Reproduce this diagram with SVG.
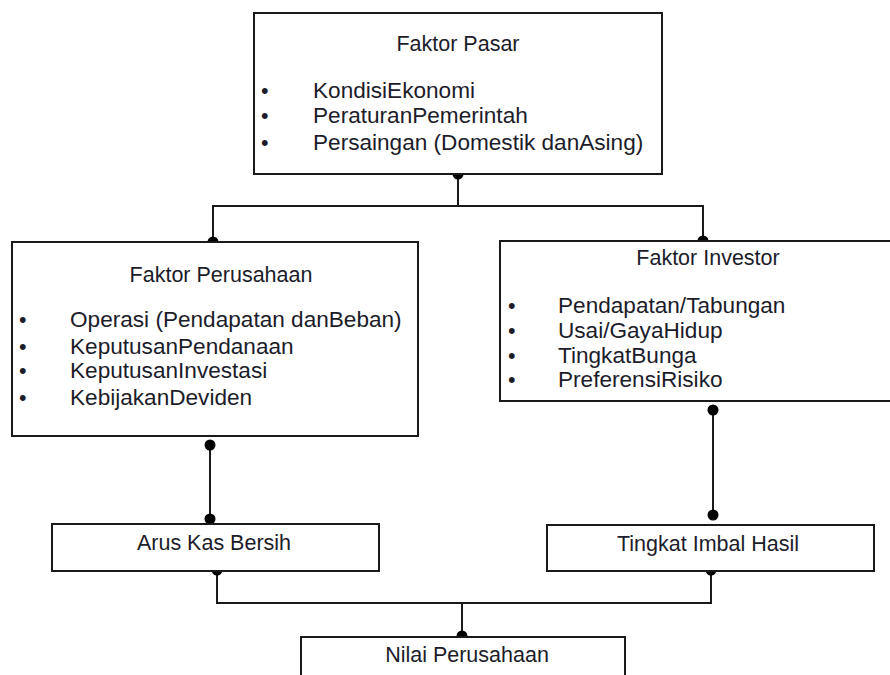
<svg xmlns="http://www.w3.org/2000/svg" width="890" height="675" viewBox="0 0 890 675">
  <style>
    .box { fill: #ffffff; stroke: #1a1a1a; stroke-width: 2; }
    .wire { fill: none; stroke: #1a1a1a; stroke-width: 2; }
    .dot { fill: #000000; }
    text { font-family: "Liberation Sans", Arial, sans-serif; font-size: 21.5px; fill: #1c1c2a; }
    .mid { text-anchor: middle; }
    .item { font-size: 22.6px; }
  </style>
  <rect width="890" height="675" fill="#ffffff"/>

  <!-- connectors -->
  <g id="connectors">
    <path class="wire" d="M458 174 V206 M213 243 V206 H703 V243"/>
    <path class="wire" d="M210 445 V519"/>
    <path class="wire" d="M713 410 V515"/>
    <path class="wire" d="M217 570 V603 H711 V570 M462 603 V636"/>
    <circle class="dot" cx="458" cy="174" r="5.5"/>
    <circle class="dot" cx="213" cy="242" r="5.5"/>
    <circle class="dot" cx="703" cy="241" r="5.5"/>
    <circle class="dot" cx="210" cy="445" r="5.5"/>
    <circle class="dot" cx="210" cy="519" r="5.5"/>
    <circle class="dot" cx="713" cy="410" r="5.5"/>
    <circle class="dot" cx="713" cy="515" r="5.5"/>
    <circle class="dot" cx="217" cy="570" r="5.5"/>
    <circle class="dot" cx="711" cy="570" r="5.5"/>
    <circle class="dot" cx="462" cy="636" r="5.5"/>
  </g>

  <g id="faktor-pasar">
    <rect class="box" x="254" y="13" width="408" height="161"/>
    <text class="mid" x="458" y="51">Faktor Pasar</text>
    <text x="261" y="98">•</text><text class="item" x="313" y="98">KondisiEkonomi</text>
    <text x="261" y="123">•</text><text class="item" x="313" y="123">PeraturanPemerintah</text>
    <text x="261" y="150">•</text><text class="item" x="313" y="150">Persaingan (Domestik danAsing)</text>
  </g>

  <g id="faktor-perusahaan">
    <rect class="box" x="12" y="242" width="406" height="194"/>
    <text class="mid" x="221" y="282">Faktor Perusahaan</text>
    <text x="19" y="327">•</text><text class="item" x="70" y="327">Operasi (Pendapatan danBeban)</text>
    <text x="19" y="354">•</text><text class="item" x="70" y="354">KeputusanPendanaan</text>
    <text x="19" y="378">•</text><text class="item" x="70" y="378">KeputusanInvestasi</text>
    <text x="19" y="405">•</text><text class="item" x="70" y="405">KebijakanDeviden</text>
  </g>

  <g id="faktor-investor">
    <rect class="box" x="500" y="241" width="400" height="160"/>
    <text class="mid" x="708" y="265">Faktor Investor</text>
    <text x="508" y="313">•</text><text class="item" x="558" y="313">Pendapatan/Tabungan</text>
    <text x="508" y="338">•</text><text class="item" x="558" y="338">Usai/GayaHidup</text>
    <text x="508" y="363">•</text><text class="item" x="558" y="363">TingkatBunga</text>
    <text x="508" y="387">•</text><text class="item" x="558" y="387">PreferensiRisiko</text>
  </g>

  <g id="arus-kas-bersih">
    <rect class="box" x="52" y="524" width="327" height="47"/>
    <text class="mid" x="214" y="550">Arus Kas Bersih</text>
  </g>

  <g id="tingkat-imbal-hasil">
    <rect class="box" x="547" y="525" width="327" height="46"/>
    <text class="mid" x="708" y="551">Tingkat Imbal Hasil</text>
  </g>

  <g id="nilai-perusahaan">
    <rect class="box" x="301" y="637" width="324" height="60"/>
    <text class="mid" x="467" y="662">Nilai Perusahaan</text>
  </g>
</svg>
